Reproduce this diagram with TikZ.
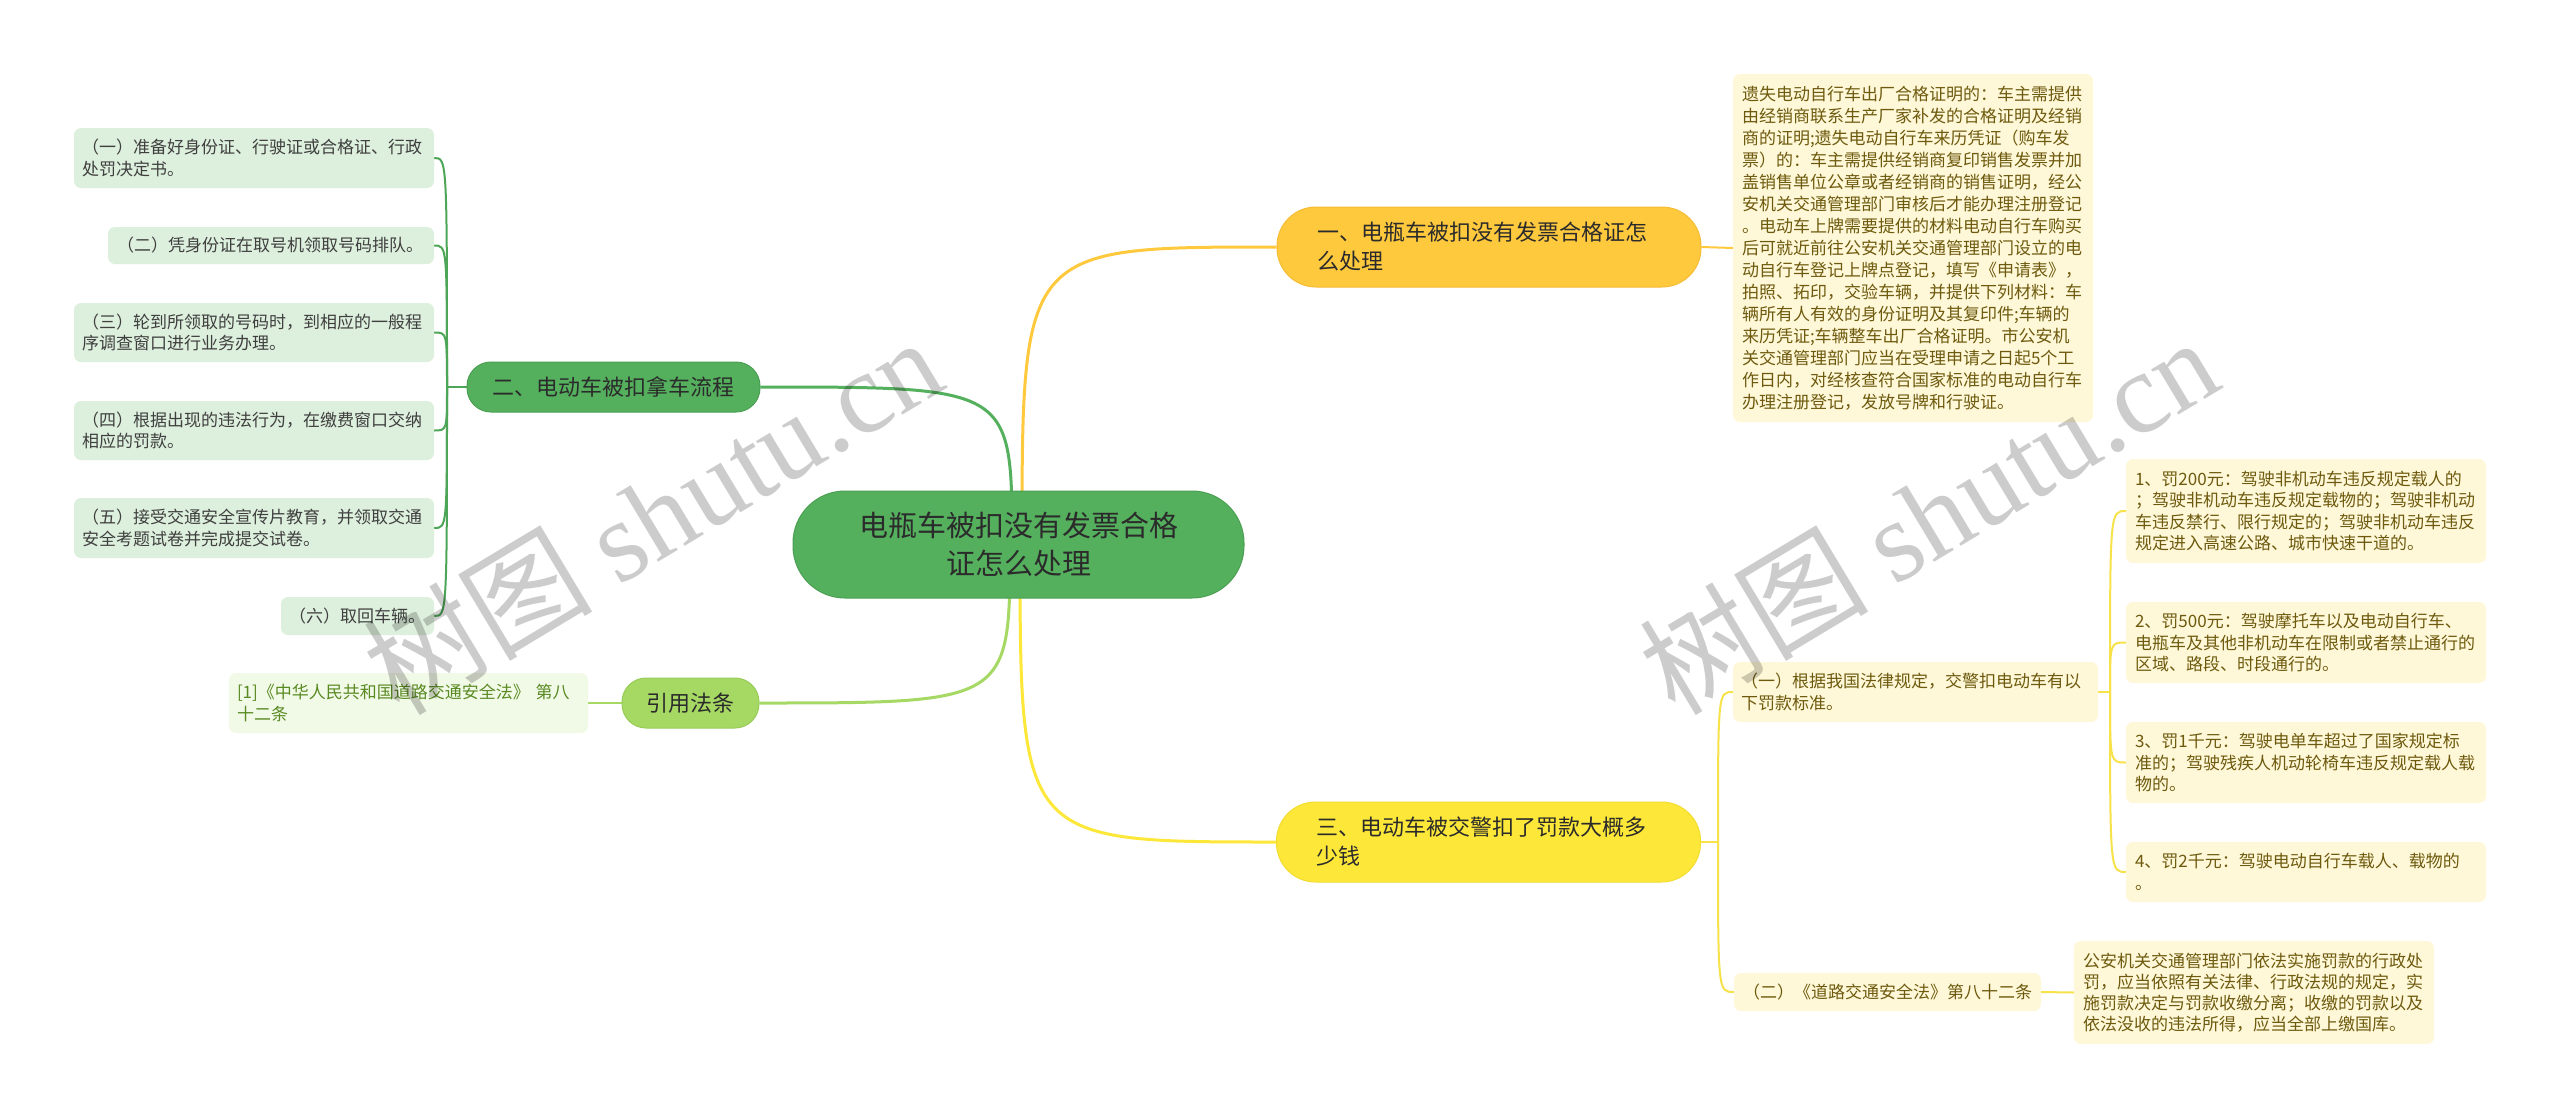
\documentclass[tikz,border=0pt]{standalone}
\usepackage{fontspec}
\setmainfont{Noto Sans CJK SC}
\newfontfamily\wmlatin{Liberation Serif}
\usetikzlibrary{calc}
\pgfdeclarelayer{bg}
\pgfsetlayers{bg,main}
\definecolor{cRoot}{HTML}{55B05E}
\definecolor{cRootEdge}{HTML}{4A9F52}
\definecolor{cLime}{HTML}{A6D964}
\definecolor{cLimeEdge}{HTML}{98CC58}
\definecolor{cOrange}{HTML}{FFC93E}
\definecolor{cOrangeEdge}{HTML}{F5BC34}
\definecolor{cYellow}{HTML}{FDE83A}
\definecolor{cYellowEdge}{HTML}{F2DC30}
\definecolor{cLeafG}{HTML}{DDEFDD}
\definecolor{cRefFill}{HTML}{F1F9E7}
\definecolor{cCream}{HTML}{FEF8D8}
\definecolor{cDark}{HTML}{2B2B2B}
\definecolor{cLeafText}{HTML}{3F3F3F}
\definecolor{cCreamText}{HTML}{6E5A0E}
\definecolor{cRefText}{HTML}{5A8A22}
\definecolor{cTreeG}{HTML}{4DA657}
\definecolor{cTreeY}{HTML}{F7E24A}
\tikzset{
  rootbox/.style={fill=cRoot, draw=cRootEdge, line width=1pt, rounded corners=52pt,
    minimum width=451pt, minimum height=107pt, inner sep=0pt, align=center,
    text=cDark, font=\fontsize{29}{38}\selectfont},
  bigpill/.style={line width=1pt, rounded corners=39pt, minimum height=80pt,
    text width=344pt, inner xsep=40pt, inner ysep=0pt, align=left,
    text=cDark, font=\fontsize{22}{29}\selectfont},
  smallpill/.style={line width=1pt, rounded corners=24pt, minimum height=50pt,
    inner sep=0pt, align=center, text=cDark, font=\fontsize{22}{26}\selectfont},
  leafG/.style={fill=cLeafG, rounded corners=7pt, inner ysep=0pt, align=left,
    text=cLeafText, font=\fontsize{17}{21.5}\selectfont},
  refbox/.style={fill=cRefFill, rounded corners=7pt, inner ysep=0pt, align=left,
    text=cRefText, font=\fontsize{17}{22}\selectfont},
  creambox/.style={fill=cCream, rounded corners=7pt, inner ysep=0pt, align=left,
    text=cCreamText, font=\fontsize{17}{21.5}\selectfont},
  mainlink/.style={line width=3pt},
  sublink/.style={line width=2pt},
  watermark/.style={rotate=31, text=black, opacity=0.2,
    font=\fontsize{115}{115}\selectfont}
}
\begin{document}
\begin{tikzpicture}[x=1pt,y=-1pt]
\begin{pgfonlayer}{bg}
\fill[white] (0,0) rectangle (2560,1119);
\end{pgfonlayer}
\useasboundingbox (0,0) rectangle (2560,1119);

% root and branches
\node[rootbox] (root) at (1018.5,544.5) {电瓶车被扣没有发票合格\\证怎么处理};
\node[bigpill, fill=cOrange, draw=cOrangeEdge] (b1) at (1489,247) {一、电瓶车被扣没有发票合格证怎\\么处理};
\node[bigpill, fill=cYellow, draw=cYellowEdge] (b3) at (1488.5,842) {三、电动车被交警扣了罚款大概多\\少钱};
\node[smallpill, fill=cRoot, draw=cRootEdge, minimum width=293pt] (b2) at (613.5,387) {二、电动车被扣拿车流程};
\node[smallpill, fill=cLime, draw=cLimeEdge, minimum width=137pt] (bref) at (690.5,703) {引用法条};

% left leaves
\node[leafG, text width=344pt, inner xsep=8pt, minimum height=60pt] (L1) at (254,158) {（一）准备好身份证、行驶证或合格证、行政\\处罚决定书。};
\node[leafG, text width=308pt, inner xsep=9pt, minimum height=37pt] (L2) at (271,245.5) {（二）凭身份证在取号机领取号码排队。};
\node[leafG, text width=344pt, inner xsep=8pt, minimum height=59pt] (L3) at (254,332.5) {（三）轮到所领取的号码时，到相应的一般程\\序调查窗口进行业务办理。};
\node[leafG, text width=344pt, inner xsep=8pt, minimum height=59pt] (L4) at (254,430.5) {（四）根据出现的违法行为，在缴费窗口交纳\\相应的罚款。};
\node[leafG, text width=344pt, inner xsep=8pt, minimum height=60pt] (L5) at (254,528) {（五）接受交通安全宣传片教育，并领取交通\\安全考题试卷并完成提交试卷。};
\node[leafG, text width=137pt, inner xsep=8pt, minimum height=38pt] (L6) at (357.5,616) {（六）取回车辆。};

% reference
\node[refbox, text width=343pt, inner xsep=8pt, minimum height=60pt] (R) at (408.5,703) {[1]《中华人民共和国道路交通安全法》 第八\\十二条};

% right side
\node[creambox, text width=342pt, inner xsep=9pt, minimum height=348pt, font=\fontsize{17}{22}\selectfont] (T1) at (1913,248) {遗失电动自行车出厂合格证明的：车主需提供\\由经销商联系生产厂家补发的合格证明及经销\\商的证明;遗失电动自行车来历凭证（购车发\\票）的：车主需提供经销商复印销售发票并加\\盖销售单位公章或者经销商的销售证明，经公\\安机关交通管理部门审核后才能办理注册登记\\。电动车上牌需要提供的材料电动自行车购买\\后可就近前往公安机关交通管理部门设立的电\\动自行车登记上牌点登记，填写《申请表》，\\拍照、拓印，交验车辆，并提供下列材料：车\\辆所有人有效的身份证明及其复印件;车辆的\\来历凭证;车辆整车出厂合格证明。市公安机\\关交通管理部门应当在受理申请之日起5个工\\作日内，对经核查符合国家标准的电动自行车\\办理注册登记，发放号牌和行驶证。};

\node[creambox, text width=349pt, inner xsep=8pt, minimum height=60pt] (S1) at (1915.5,692) {（一）根据我国法律规定，交警扣电动车有以\\下罚款标准。};
\node[creambox, text width=289pt, inner xsep=9pt, minimum height=38pt] (S2) at (1887.5,992) {（二）《道路交通安全法》第八十二条};
\node[creambox, text width=342pt, inner xsep=9pt, minimum height=103pt, font=\fontsize{17}{21}\selectfont] (T2) at (2254,992.5) {公安机关交通管理部门依法实施罚款的行政处\\罚，应当依照有关法律、行政法规的规定，实\\施罚款决定与罚款收缴分离；收缴的罚款以及\\依法没收的违法所得，应当全部上缴国库。};

\node[creambox, text width=342pt, inner xsep=9pt, minimum height=104pt] (P1) at (2306,511) {1、罚200元：驾驶非机动车违反规定载人的\\；驾驶非机动车违反规定载物的；驾驶非机动\\车违反禁行、限行规定的；驾驶非机动车违反\\规定进入高速公路、城市快速干道的。};
\node[creambox, text width=342pt, inner xsep=9pt, minimum height=81pt] (P2) at (2306,642.5) {2、罚500元：驾驶摩托车以及电动自行车、\\电瓶车及其他非机动车在限制或者禁止通行的\\区域、路段、时段通行的。};
\node[creambox, text width=342pt, inner xsep=9pt, minimum height=81pt] (P3) at (2306,762.5) {3、罚1千元：驾驶电单车超过了国家规定标\\准的；驾驶残疾人机动轮椅车违反规定载人载\\物的。};
\node[creambox, text width=342pt, inner xsep=9pt, minimum height=60pt] (P4) at (2306,872) {4、罚2千元：驾驶电动自行车载人、载物的\\。};

% connectors
\coordinate (rO) at (1022,544);
\coordinate (rG) at (1012,544);
\coordinate (rL) at (1010,544);
\coordinate (rY) at (1020,544);
\coordinate (jL) at (447,387);
\coordinate (jR) at (1718,842);
\coordinate (jP) at (2110,692);
\begin{pgfonlayer}{bg}
\draw[mainlink, cOrange] (rO) .. controls (rO |- b1.west) .. (b1.west);
\draw[mainlink, cRoot] (rG) .. controls (rG |- b2.east) .. (b2.east);
\draw[mainlink, cLime] (rL) .. controls (rL |- bref.east) .. (bref.east);
\draw[mainlink, cYellow] (rY) .. controls (rY |- b3.west) .. (b3.west);

\draw[sublink, cTreeG] (b2.west) -- (jL);
\foreach \n in {L1,L2,L3,L4,L5,L6}{
  \draw[sublink, cTreeG] (jL) .. controls (jL |- \n.east) .. (\n.east);
}
\draw[sublink, cLime] (bref.west) -- (R.east);
\draw[sublink, cOrange] (b1.east) -- (T1.west);

\draw[sublink, cTreeY] (b3.east) -- (jR);
\draw[sublink, cTreeY] (jR) .. controls (jR |- S1.west) .. (S1.west);
\draw[sublink, cTreeY] (jR) .. controls (jR |- S2.west) .. (S2.west);
\draw[sublink, cTreeY] (S2.east) -- (T2.west);
\draw[sublink, cTreeY] (S1.east) -- (jP);
\foreach \n in {P1,P2,P3,P4}{
  \draw[sublink, cTreeY] (jP) .. controls (jP |- \n.west) .. (\n.west);
}
\end{pgfonlayer}

% watermarks
\node[watermark] (wm1) at (652,515) {树图 {\wmlatin shutu.cn}};
\node[watermark] (wm2) at (1928,515) {树图 {\wmlatin shutu.cn}};
\end{tikzpicture}
\end{document}
